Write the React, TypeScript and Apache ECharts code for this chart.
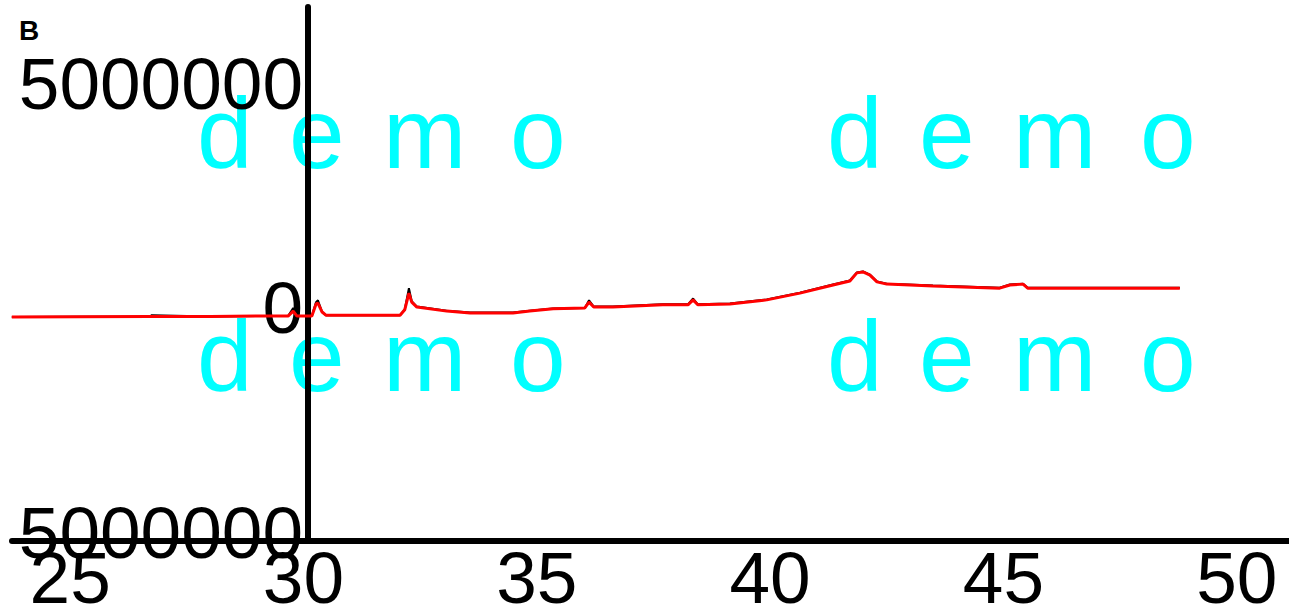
import React, { useEffect, useRef } from "react";
import * as echarts from "echarts";

const twoTheta = [
  23.75, 26.71, 26.75, 28.0, 29.07, 29.67, 29.78, 29.86, 30.18, 30.27, 30.31, 30.4, 30.48,
  32.07, 32.17, 32.26, 32.32, 32.43, 33.07, 33.57, 34.49, 34.85, 35.35, 36.03, 36.12, 36.22,
  36.63, 37.7, 38.24, 38.35, 38.45, 39.14, 39.93, 40.64, 41.35, 41.71, 41.86, 41.99, 42.14,
  42.29, 42.5, 43.49, 44.92, 45.14, 45.42, 45.52, 46.36, 47.77, 48.78,
];
const redIntensity = [
  -200000, -190000, -190000, -190000, -180000, -180000, -70000, -180000, -180000, 90000, 110000, -90000, -160000,
  -160000, -40000, 330000, 130000, 20000, -70000, -110000, -110000, -70000, -20000, 0, 130000, 20000,
  20000, 70000, 70000, 180000, 70000, 90000, 180000, 330000, 510000, 600000, 780000, 800000, 730000,
  580000, 530000, 490000, 440000, 510000, 530000, 440000, 440000, 440000, 440000,
];
const blackIntensity = [
  -200000, -190000, -160000, -190000, -180000, -180000, 0, -180000, -180000, 130000, 170000, -90000, -160000,
  -160000, -40000, 440000, 150000, 30000, -60000, -100000, -100000, -60000, -10000, 0, 170000, 30000,
  30000, 80000, 80000, 210000, 80000, 100000, 190000, 340000, 520000, 610000, 790000, 810000, 740000,
  590000, 540000, 500000, 450000, 520000, 540000, 450000, 450000, 450000, 450000,
];
const xTicks = [25, 30, 35, 40, 45, 50];
const yTicks = [-5000000, 0, 5000000];
const watermarkLetters = ["d", "e", "m", "o"];
const watermarkX = [197, 289, 383, 510];

const FONT = "'Liberation Sans', Arial, sans-serif";

export default function App() {
  const ref = useRef<HTMLDivElement>(null);
  useEffect(() => {
    if (!ref.current) return;
    const chart = echarts.init(ref.current, null, { renderer: "svg" });
    const zip = (ys: number[]) => twoTheta.map((x, i) => [x, ys[i]]);
    const graphics: any[] = [];
    const rowsY = [133, 356];
    const colOffsets = [0, 630];
    rowsY.forEach((ry) =>
      colOffsets.forEach((co) =>
        watermarkLetters.forEach((ch, i) =>
          graphics.push({
            type: "text",
            x: watermarkX[i] + co,
            y: ry,
            z: -10,
            style: {
              text: ch,
              fill: "#00FFFF",
              fontSize: 100,
              fontFamily: FONT,
              align: "left",
              verticalAlign: "middle",
            },
          })
        )
      )
    );
    graphics.push({
      type: "text",
      x: 19,
      y: 30,
      style: {
        text: "B",
        fill: "#000",
        fontSize: 28,
        fontWeight: "bold",
        fontFamily: FONT,
        align: "left",
        verticalAlign: "middle",
      },
    });
    chart.setOption({
      animation: false,
      backgroundColor: "#fff",
      grid: { left: 12, right: 0, top: 7, bottom: 69, containLabel: false, outerBoundsMode: "none" },
      graphic: graphics,
      xAxis: {
        type: "value",
        min: 23.754,
        max: 51.12,
        splitLine: { show: false },
        axisTick: { show: false },
        axisLine: { onZero: false, lineStyle: { color: "#000", width: 6 } },
        axisLabel: {
          customValues: xTicks,
          color: "#000",
          fontSize: 73,
          fontFamily: FONT,
          margin: 0,
          showMinLabel: true,
          showMaxLabel: true,
        },
      },
      yAxis: {
        type: "value",
        min: -5180000,
        max: 6690000,
        offset: -296,
        splitLine: { show: false },
        axisTick: { show: false },
        axisLine: { onZero: false, lineStyle: { color: "#000", width: 6 } },
        axisLabel: {
          customValues: yTicks,
          color: "#000",
          fontSize: 73,
          fontFamily: FONT,
          margin: 5,
          formatter: (v: number) => (v < 0 ? `{h|-}${Math.abs(v)}` : `${v}`),
          rich: { h: { color: "rgba(0,0,0,0)", fontSize: 73, fontFamily: FONT } },
        },
      },
      series: [
        {
          type: "line",
          data: zip(blackIntensity),
          showSymbol: false,
          lineStyle: { color: "#000", width: 2 },
          z: 2,
        },
        {
          type: "line",
          data: zip(redIntensity),
          showSymbol: false,
          lineStyle: { color: "#FF0000", width: 3 },
          z: 3,
        },
      ],
    });
    return () => chart.dispose();
  }, []);
  return (
    <div
      ref={ref}
      style={{ position: "absolute", left: 0, top: 0, width: 1289, height: 610 }}
    />
  );
}
